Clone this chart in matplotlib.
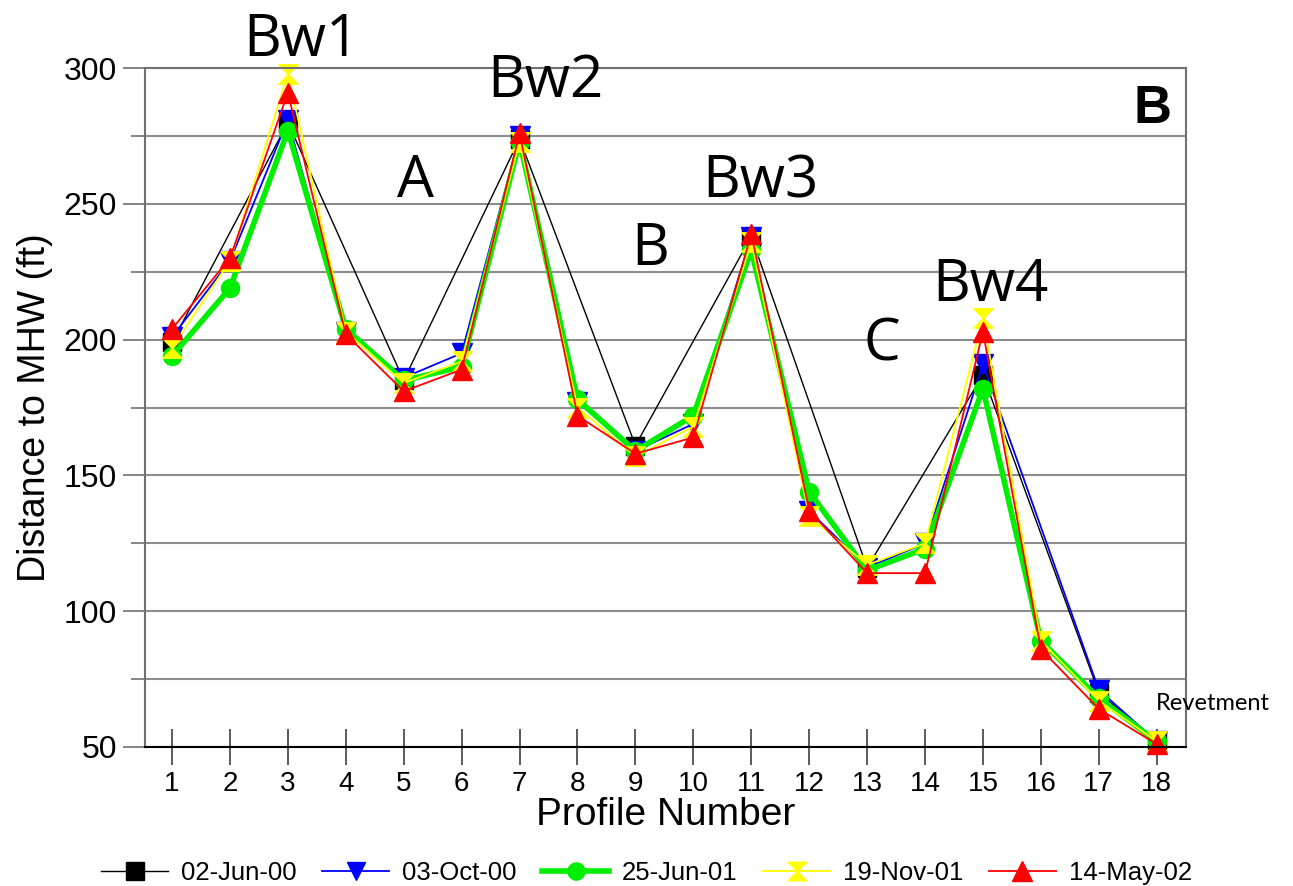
import numpy as np
import matplotlib as mpl
mpl.use('Agg')
import matplotlib.pyplot as plt
from matplotlib.ticker import MultipleLocator

plt.rcParams['font.family'] = ['Liberation Sans', 'DejaVu Sans']

profiles = np.arange(1, 19)
nan = np.nan

# 02-Jun-00 was surveyed on every second profile only
jun00 = [199, nan, 280, nan, 185, nan, 274, nan, 161, nan, 238, nan, 116, nan, 187, nan, 70, 52]
oct00 = [201, 229, 281, 203, 186, 195, 275, 177, 159, 169, 238, 137, 116, 125, 191, nan, 71, 52]
jun01 = [194, 219, 277, 204, 185, 190, 273, 178, 159, 172, 233, 144, 115, 123, 182, 89, 68, 52]
nov01 = [197, 229, 298, 203, 184, 192, 273, 175, 157, 168, 236, 135, 117, 125, 208, 89, 67, 52]
may02 = [204, 230, 291, 202, 181, 189, 276, 172, 158, 164, 239, 137, 114, 114, 203, 86, 64, 51]

labels = ['02-Jun-00', '03-Oct-00', '25-Jun-01', '19-Nov-01', '14-May-02']

notes = ['Bw1', 'Bw2', 'A', 'B', 'Bw3', 'C', 'Bw4']
note_x = [3.23, 7.45, 5.2, 9.26, 11.15, 13.26, 15.13]
note_y = [310, 295, 258, 233, 258, 198, 220]

hourglass = [(-1, 1), (1, 1), (-1, -1), (1, -1), (-1, 1)]

fig = plt.figure(figsize=(12.93, 8.86), dpi=100)
ax = fig.add_axes([0.112, 0.157, 0.805, 0.766])

def draw(y, col, mk, lw, ms):
    y = np.array(y, dtype=float)
    ok = ~np.isnan(y)
    return ax.plot(profiles[ok], y[ok], color=col, marker=mk, lw=lw, ms=ms,
                   mec=col, mfc=col, clip_on=False)[0]

h1 = draw(jun00, 'black', 's', 1.0, 13)
h2 = draw(oct00, 'blue', 'v', 1.3, 14)
h3 = draw(jun01, '#00ee00', 'o', 4.0, 13)
h4 = draw(nov01, 'yellow', hourglass, 1.3, 14)
h5 = draw(may02, 'red', '^', 1.3, 15)

ax.set_xlim(0.53, 18.5)
ax.set_ylim(50, 300)
ax.set_xticks(profiles)
ax.yaxis.set_major_locator(MultipleLocator(50))
ax.yaxis.set_minor_locator(MultipleLocator(25))
ax.grid(True, which='both', axis='y', color='#8c8c8c', lw=1.5)
ax.set_axisbelow(True)

for s in ['left', 'right', 'top']:
    ax.spines[s].set_color('#707070')
    ax.spines[s].set_linewidth(1.5)
ax.spines['bottom'].set_color('black')
ax.spines['bottom'].set_linewidth(1.5)

ax.tick_params(axis='y', which='major', direction='out', length=16, width=1.2,
               color='#707070', labelsize=23, pad=4)
ax.tick_params(axis='y', which='minor', direction='out', length=10, width=1.2,
               color='#707070')
ax.tick_params(axis='x', direction='inout', length=26, width=1.2, color='#404040',
               labelsize=20, pad=4)

ax.set_xlabel('Profile Number', fontsize=28, labelpad=0)
ax.set_ylabel('Distance to MHW (ft)', fontsize=27, labelpad=8)

for t, x, y in zip(notes, note_x, note_y):
    ax.text(x, y, t, fontsize=42, ha='center', va='center', family='Open Sans',
            clip_on=False)
ax.text(18.97, 66, 'Revetment', fontsize=17, ha='center', va='center',
        family='Lato', clip_on=False)
ax.text(17.93, 285, 'B', fontsize=38, fontweight='bold', ha='center', va='center')

fig.legend([h1, h2, h3, h4, h5], labels, loc='lower center', ncol=5,
           bbox_to_anchor=(0.5, -0.025), frameon=False, fontsize=18.5,
           handlelength=2.6, columnspacing=1.0, handletextpad=0.5,
           markerscale=0.95)

fig.savefig('out.png', dpi=100)
